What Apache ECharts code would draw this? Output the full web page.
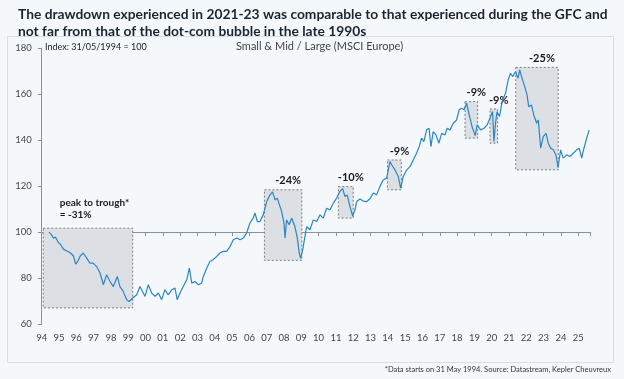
<!DOCTYPE html>
<html>
<head>
<meta charset="utf-8">
<script src="https://cdn.jsdelivr.net/npm/echarts@6/dist/echarts.min.js"></script>
<style>
html,body{margin:0;padding:0;background:#f5f8fb;}
#c{width:624px;height:379px;}
</style>
</head>
<body>
<div id="c"></div>
<script>
// Time (decimal year) and index values
const years = [1994.42,1994.55,1994.67,1994.8,1994.96,1995.1,1995.25,1995.45,1995.63,1995.83,1995.96,1996.1,1996.21,1996.4,1996.6,1996.79,1996.98,1997.18,1997.37,1997.56,1997.75,1997.95,1998.14,1998.37,1998.52,1998.71,1998.91,1999.06,1999.26,1999.49,1999.68,1999.97,2000.16,2000.35,2000.55,2000.74,2000.93,2001.12,2001.31,2001.51,2001.7,2001.83,2001.99,2002.18,2002.38,2002.53,2002.67,2002.86,2003.05,2003.24,2003.34,2003.53,2003.72,2003.91,2004.11,2004.3,2004.49,2004.69,2004.88,2005.07,2005.27,2005.46,2005.65,2005.84,2006.03,2006.22,2006.32,2006.46,2006.61,2006.8,2007.0,2007.19,2007.34,2007.48,2007.61,2007.77,2007.86,2008.0,2008.06,2008.15,2008.3,2008.44,2008.63,2008.77,2008.88,2008.96,2009.08,2009.21,2009.31,2009.5,2009.69,2009.89,2010.08,2010.27,2010.46,2010.66,2010.85,2011.04,2011.23,2011.39,2011.52,2011.65,2011.81,2011.97,2012.1,2012.2,2012.39,2012.58,2012.78,2012.97,2013.16,2013.35,2013.54,2013.73,2013.93,2014.12,2014.22,2014.41,2014.6,2014.74,2014.89,2015.09,2015.28,2015.47,2015.66,2015.81,2015.95,2016.08,2016.24,2016.38,2016.49,2016.62,2016.78,2016.95,2017.11,2017.3,2017.43,2017.59,2017.78,2017.97,2018.12,2018.26,2018.4,2018.55,2018.7,2018.88,2019.05,2019.16,2019.36,2019.55,2019.74,2019.94,2020.05,2020.13,2020.22,2020.31,2020.45,2020.6,2020.8,2020.95,2021.08,2021.22,2021.37,2021.52,2021.62,2021.75,2021.91,2022.04,2022.14,2022.3,2022.43,2022.6,2022.69,2022.83,2022.98,2023.14,2023.27,2023.41,2023.56,2023.71,2023.84,2023.98,2024.13,2024.33,2024.52,2024.71,2024.91,2025.06,2025.2,2025.33,2025.49,2025.63];
const values = [100.0,99.0,97.4,97.8,95.5,94.5,92.6,91.8,91.1,89.7,86.1,87.5,89.4,90.9,88.7,86.5,86.5,85.0,82.2,77.1,81.4,78.5,76.3,80.7,76.3,74.2,70.6,69.8,71.3,72.7,76.3,72.0,77.1,73.5,72.0,73.5,70.6,74.9,72.7,74.9,75.6,70.6,73.5,76.3,79.3,84.3,77.8,78.5,77.1,77.8,80.7,84.3,87.2,88.0,89.4,90.9,91.6,91.6,93.7,96.7,97.4,96.7,97.4,99.6,103.9,106.1,108.3,104.6,104.6,107.5,113.3,116.2,117.5,114.0,114.8,111.1,109.0,103.9,97.4,105.3,103.2,106.1,102.4,97.4,90.9,88.6,92.3,98.1,102.4,101.0,105.3,104.6,107.5,106.1,110.4,109.7,112.6,114.8,117.7,118.9,115.5,116.2,111.1,107.0,109.7,113.3,114.4,113.5,113.3,114.5,117.0,116.2,119.8,122.7,123.5,130.7,129.3,127.1,124.2,119.1,124.2,127.1,128.5,131.4,134.3,137.2,140.9,139.4,144.5,145.2,137.2,143.7,142.3,138.7,143.0,142.3,145.2,144.5,147.4,148.8,153.2,153.9,153.2,156.1,151.0,145.5,142.0,146.7,144.5,145.2,146.7,150.3,152.5,139.5,147.4,152.4,150.3,156.8,160.4,166.2,169.1,167.7,169.8,167.0,170.6,167.0,163.3,159.7,154.6,155.3,151.0,147.4,148.8,136.5,141.6,143.0,138.7,136.5,135.8,133.6,128.0,135.8,132.2,133.6,132.9,134.3,135.8,136.5,132.2,136.5,140.9,144.5];

// Drawdown boxes (peak-to-trough windows)
const boxStart  = [1994.09, 2006.87, 2011.14, 2013.98, 2018.46, 2019.90, 2021.39];
const boxEnd    = [1999.26, 2009.03, 2012.00, 2014.78, 2019.19, 2020.34, 2023.84];
const boxTop    = [101.7, 118.4, 119.8, 131.4, 156.8, 153.6, 171.7];
const boxBottom = [67.0, 87.7, 106.1, 118.4, 140.9, 138.7, 127.1];
const boxLabels = ['peak to trough*\n= -31%', '-24%', '-10%', '-9%', '-9%', '-9%', '-25%'];

const yearTicks = ['94','95','96','97','98','99','00','01','02','03','04','05','06','07','08','09','10','11','12','13','14','15','16','17','18','19','20','21','22','23','24','25'];

const FONT = 'Lato';
const chart = echarts.init(document.getElementById('c'), null, {renderer: 'canvas'});

const areas = boxStart.map((s, i) => {
  const label = i === 0
    ? {show: true, position: [17, -31], align: 'left', verticalAlign: 'top', fontSize: 10, fontWeight: 'bold', lineHeight: 12, color: '#1a1a1a', fontFamily: FONT}
    : {show: true, position: 'top', distance: 3, offset: [5, 0], fontSize: 11, fontWeight: 'bold', color: '#1a1a1a', fontFamily: FONT};
  return [
    {xAxis: s, yAxis: boxTop[i], name: boxLabels[i], label: label},
    {xAxis: boxEnd[i], yAxis: boxBottom[i]}
  ];
});

const option = {
  animation: false,
  backgroundColor: '#f5f8fb',
  title: {
    text: 'The drawdown experienced in 2021-23 was comparable to that experienced during the GFC and\nnot far from that of the dot-com bubble in the late 1990s',
    left: 13, top: 1,
    textStyle: {fontFamily: FONT, fontSize: 13.8, fontWeight: 'bold', color: '#1b2530', lineHeight: 17}
  },
  graphic: [
    {type: 'rect', shape: {x: 7.5, y: 36.5, width: 606, height: 326}, style: {fill: 'none', stroke: '#d6dee6', lineWidth: 1}, z: -1},
    {type: 'text', left: 45, top: 43, style: {text: 'Index: 31/05/1994 = 100', fontFamily: FONT, fontSize: 9, fill: '#222'}},
    {type: 'text', left: 236, top: 41, style: {text: 'Small & Mid / Large (MSCI Europe)', fontFamily: FONT, fontSize: 11, fill: '#444'}},
    {type: 'text', right: 13, top: 366, style: {text: '*Data starts on 31 May 1994. Source: Datastream, Kepler Cheuvreux', fontFamily: FONT, fontSize: 7.5, fill: '#333'}}
  ],
  grid: {left: 41.7, right: 34, top: 48.3, bottom: 55},
  xAxis: [
    {
      type: 'value', min: 1994, max: 2025.68, interval: 1,
      axisLine: {show: false}, axisTick: {show: false}, splitLine: {show: false},
      axisLabel: {
        showMaxLabel: false, margin: 9,
        fontFamily: FONT, fontSize: 9.5, color: '#444',
        formatter: v => yearTicks[Math.round(v - 1994)] || ''
      }
    },
    {
      type: 'value', min: 1994, max: 2025.68, interval: 1, position: 'bottom', offset: -92,
      axisLine: {show: true, lineStyle: {color: '#8593a0', width: 1}},
      axisTick: {show: true, length: 4, lineStyle: {color: '#8593a0'}},
      axisLabel: {show: false}, splitLine: {show: false}
    }
  ],
  yAxis: {
    type: 'value', min: 60, max: 180, interval: 20,
    axisLine: {show: true, lineStyle: {color: '#8593a0'}},
    axisTick: {show: true, length: 4, lineStyle: {color: '#8593a0'}},
    splitLine: {show: false},
    axisLabel: {fontFamily: FONT, fontSize: 9.5, color: '#444', margin: 10}
  },
  series: [{
    type: 'line',
    xAxisIndex: 0,
    data: years.map((y, i) => [y, values[i]]),
    showSymbol: false,
    lineStyle: {color: '#2b86c5', width: 1.2},
    markArea: {
      silent: true,
      itemStyle: {color: '#dcdfe3', borderColor: '#7c7c7c', borderWidth: 1, borderType: [2, 2]},
      data: areas
    },
    z: 3
  }]
};
chart.setOption(option);
</script>
</body>
</html>
